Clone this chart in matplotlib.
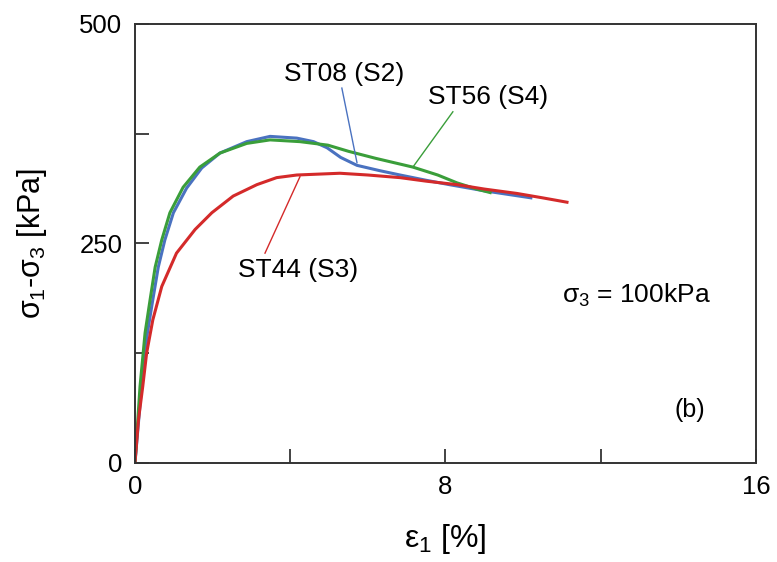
import matplotlib
matplotlib.use("Agg")
import matplotlib.pyplot as plt

plt.rcParams["font.family"] = ["Liberation Sans", "DejaVu Sans"]
plt.rcParams["mathtext.fontset"] = "custom"
plt.rcParams["mathtext.rm"] = "Liberation Sans"
plt.rcParams["mathtext.it"] = "Liberation Sans"

# ST08 (S2)
st08_eps = [0, 0.17, 0.32, 0.46, 0.60, 0.77, 0.99, 1.33, 1.72, 2.19, 2.88, 3.48,
            4.17, 4.6, 4.95, 5.3, 5.72, 6.3, 6.83, 7.5, 8.1, 9.0, 9.6, 10.2]
st08_q = [0, 87, 148, 186, 223, 254, 285, 313, 336, 353, 366, 372,
          370, 366, 359, 348, 339, 333, 328, 322, 317, 310, 306, 302]

# ST56 (S4)
st56_eps = [0, 0.13, 0.26, 0.39, 0.52, 0.69, 0.90, 1.24, 1.67, 2.19, 2.88, 3.48,
            4.25, 4.97, 5.5, 6.2, 7.16, 7.8, 8.3, 8.8, 9.15]
st56_q = [0, 87, 148, 186, 223, 254, 285, 314, 337, 353, 364, 368,
          366, 362, 355, 347, 337, 328, 319, 312, 308]

# ST44 (S3)
st44_eps = [0, 0.09, 0.20, 0.30, 0.46, 0.69, 1.07, 1.55, 1.98, 2.53, 3.14, 3.65,
            4.17, 5.28, 6.0, 6.83, 7.5, 8.3, 9.0, 9.84, 10.5, 11.13]
st44_q = [0, 49, 87, 125, 163, 201, 239, 266, 285, 304, 317, 325,
          328, 330, 328, 325, 321, 317, 312, 307, 302, 297]

# labels: (text, text position, leader start, leader end, colour)
labels = [
    ("ST08 (S2)", (5.39, 443), (5.33, 427), (5.72, 342), "#4a72c0"),
    ("ST56 (S4)", (9.10, 417), (8.19, 400), (7.16, 337), "#3a9e3a"),
    ("ST44 (S3)", (4.20, 220), (4.25, 326), (3.35, 239), "#d42a2a"),
]

fig = plt.figure(figsize=(7.77, 5.62), dpi=100)
ax = fig.add_axes([0.1737, 0.1762, 0.7993, 0.7811])

ax.plot(st08_eps, st08_q, color="#4a72c0", lw=2.2)
ax.plot(st56_eps, st56_q, color="#3a9e3a", lw=2.2)
ax.plot(st44_eps, st44_q, color="#d42a2a", lw=2.2)

for txt, pos, p0, p1, col in labels:
    ax.plot([p0[0], p1[0]], [p0[1], p1[1]], color=col, lw=1)
    ax.text(pos[0], pos[1], txt, fontsize=19, ha="center", va="center")

ax.text(12.93, 191, r"$\sigma_3$ = 100kPa", fontsize=19, ha="center", va="center")
ax.text(14.3, 60, "(b)", fontsize=18, ha="center", va="center")

ax.set_xlim(0, 16)
ax.set_ylim(0, 500)
ax.set_xticks([0, 4, 8, 12, 16])
ax.set_xticklabels(["0", "", "8", "", "16"])
ax.set_yticks([0, 125, 250, 375, 500])
ax.set_yticklabels(["0", "", "250", "", "500"])
ax.tick_params(direction="in", length=10, width=1.2, labelsize=18.5, pad=9,
               color="#222222")
for sp in ax.spines.values():
    sp.set_linewidth(1.4)
    sp.set_color("#333333")

ax.set_xlabel(r"$\epsilon_1$ [%]", fontsize=23, labelpad=16)
ax.set_ylabel(r"$\sigma_1$-$\sigma_3$ [kPa]", fontsize=22, labelpad=22)

fig.savefig("out.png", dpi=100)
